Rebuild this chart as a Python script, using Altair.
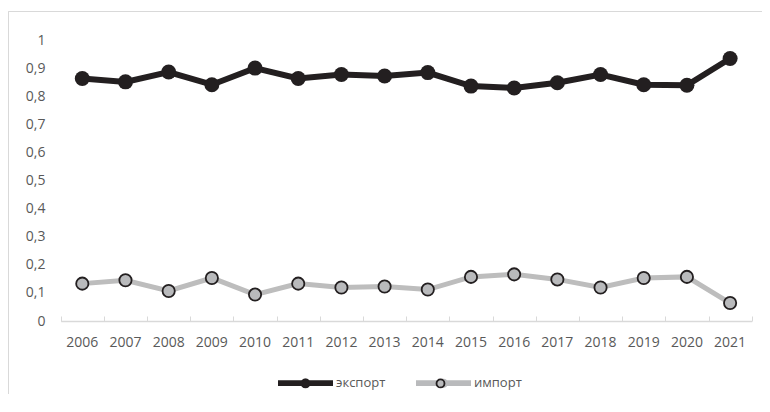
import altair as alt
import pandas as pd

years = ["2006", "2007", "2008", "2009", "2010", "2011", "2012", "2013",
         "2014", "2015", "2016", "2017", "2018", "2019", "2020", "2021"]
export_vals = [0.863, 0.851, 0.886, 0.841, 0.900, 0.863, 0.877, 0.872,
               0.884, 0.836, 0.829, 0.848, 0.877, 0.841, 0.839, 0.934]
import_vals = [0.133, 0.145, 0.107, 0.153, 0.094, 0.133, 0.119, 0.123,
               0.112, 0.157, 0.166, 0.148, 0.119, 0.153, 0.157, 0.064]
series_names = ["экспорт", "импорт"]
y_ticks = [0, 0.1, 0.2, 0.3, 0.4, 0.5, 0.6, 0.7, 0.8, 0.9, 1]

RING_PREFIX = "o_"
ring_names = [RING_PREFIX + s for s in series_names]

rows = []
for s, vals in zip(series_names, [export_vals, import_vals]):
    for yr, v in zip(years, vals):
        rows.append({"year": yr, "value": v, "series": s, "series2": RING_PREFIX + s})
df = pd.DataFrame(rows)
frame_df = pd.DataFrame({"fx": [0], "fy": [0]})

FONT = "Open Sans"
TXT = "#595959"
GRID = "#d9d9d9"
C_EXP = "#231f20"
C_IMP_LINE = "#bdbdbd"
C_IMP_PT = "#b9babc"

VIEW_W = 754
VIEW_H = 383
X_RANGE = [52.7, 743.7]
Y_RANGE = [310, 29]

xscale = alt.Scale(type="band", range=X_RANGE, paddingInner=0, paddingOuter=0)
yscale = alt.Scale(domain=[0, 1], range=Y_RANGE, nice=False, zero=True)

x_main = alt.X("year:O", scale=xscale, sort=years,
               axis=alt.Axis(title=None, orient="bottom", offset=310 - VIEW_H, domain=True,
                             domainColor=GRID, domainWidth=1.5, ticks=False, tickSize=0,
                             labelPadding=14, labelAngle=0, labelFont=FONT,
                             labelFontSize=14, labelColor=TXT, grid=False))
x_tick = alt.X("year:O", scale=xscale, sort=years,
               axis=alt.Axis(title=None, orient="bottom", offset=305 - VIEW_H, domain=False,
                             labels=False, ticks=True, tickSize=5, tickBand="extent",
                             tickColor=GRID, tickWidth=1, grid=False))
x_none = alt.X("year:O", scale=xscale, sort=years, axis=None)

y_main = alt.Y("value:Q", scale=yscale,
               axis=alt.Axis(title=None, orient="left", offset=-37, domain=False,
                             ticks=False, tickSize=0, grid=False, values=y_ticks,
                             labelPadding=0, labelFont=FONT, labelFontSize=14,
                             labelColor=TXT,
                             labelExpr="replace(format(datum.value, '~g'), '.', ',')"))
y_none = alt.Y("value:Q", scale=yscale, axis=None)

PATH_A = ("M-1,-0.105H1V0.105H-1Z "
          "M0.165,0A0.165,0.165,0,1,1,-0.165,0A0.165,0.165,0,1,1,0.165,0Z")
PATH_B = "M0.145,0A0.145,0.145,0,1,1,-0.145,0A0.145,0.145,0,1,1,0.145,0Z"

LEG_X = 269
LEG_Y = 343.5


def legend(path, label_color, fill_color=None, label_expr=None):
    kw = dict(title=None, orient="none", legendX=LEG_X, legendY=LEG_Y,
              direction="horizontal", symbolType=path, symbolSize=3025,
              symbolStrokeWidth=1.8, labelFont=FONT, labelFontSize=13,
              labelColor=label_color, labelOffset=2, columnPadding=26, padding=0)
    if fill_color is not None:
        kw["symbolFillColor"] = fill_color
    else:
        kw["symbolStrokeColor"] = "transparent"
    if label_expr is not None:
        kw["labelExpr"] = label_expr
    return alt.Legend(**kw)


fill_enc = alt.Fill("series:N",
                    scale=alt.Scale(domain=series_names, range=[C_EXP, C_IMP_PT]),
                    legend=legend(PATH_A, TXT))

base = alt.Chart(df)
exp_data = base.transform_filter(alt.datum.series == series_names[0])
imp_data = base.transform_filter(alt.datum.series == series_names[1])

line_exp = exp_data.mark_line(color=C_EXP, strokeWidth=6).encode(x=x_main, y=y_main)
line_imp = imp_data.mark_line(color=C_IMP_LINE, strokeWidth=5).encode(x=x_none, y=y_none)

exp_pts = exp_data.mark_point(
    filled=True, size=225, opacity=1, strokeWidth=0
).encode(x=x_tick, y=y_none, fill=fill_enc)

imp_pts = imp_data.mark_point(
    filled=True, size=150, opacity=1, strokeWidth=0
).encode(x=x_none, y=y_none, fill=fill_enc)

imp_ring = imp_data.mark_point(
    filled=False, size=150, opacity=1, strokeWidth=1.8
).encode(
    x=x_none, y=y_none,
    stroke=alt.Stroke("series2:N",
                      scale=alt.Scale(domain=ring_names, range=[C_EXP, C_EXP]),
                      legend=legend(PATH_B, "transparent", "transparent",
                                    label_expr="slice(datum.label, %d)" % len(RING_PREFIX))),
)

# chart-area frame (left and top edges), drawn as axis domain lines
frame = alt.Chart(frame_df).mark_point(opacity=0).encode(
    x=alt.X("fx:Q", scale=alt.Scale(domain=[0, 1], range=[0, VIEW_W + 10]),
            axis=alt.Axis(title=None, orient="top", offset=0, domain=True,
                          domainColor=GRID, domainWidth=1, labels=False,
                          ticks=False, grid=False)),
    y=alt.Y("fy:Q", scale=alt.Scale(domain=[0, 1], range=[VIEW_H + 10, 0]),
            axis=alt.Axis(title=None, orient="left", offset=0, domain=True,
                          domainColor=GRID, domainWidth=1, labels=False,
                          ticks=False, grid=False)),
)

chart = alt.layer(frame, line_exp, line_imp, exp_pts, imp_pts, imp_ring).resolve_scale(
    x="independent", y="independent"
).resolve_axis(
    x="independent", y="independent"
).properties(
    width=VIEW_W,
    height=VIEW_H,
    autosize=alt.AutoSizeParams(type="none"),
    padding={"left": 0, "top": 3, "right": 0, "bottom": 0},
).configure_view(
    stroke=None
).configure(background="white")

chart.save("out.html", embed_options={"renderer": "svg", "actions": False})
